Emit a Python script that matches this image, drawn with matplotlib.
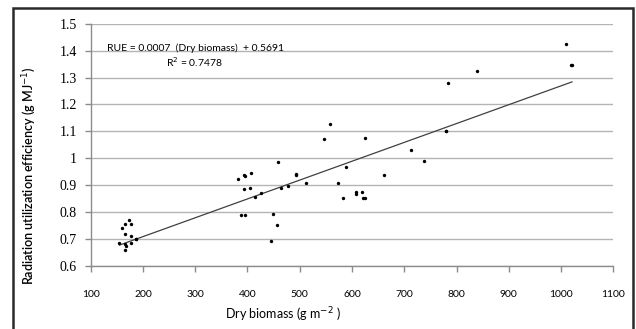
import numpy as np
import matplotlib.pyplot as plt
from matplotlib.patches import Rectangle

# dry biomass (g m-2) and RUE (g MJ-1) for each sample
biomass = [174, 165, 177, 159, 166, 177, 186, 187, 155, 165, 177, 167, 166,
           381, 394, 395, 407, 394, 405, 415, 426, 388, 395, 448, 456, 445,
           458, 464, 478, 492, 493, 512,
           546, 558, 625, 588, 574, 582, 607, 607, 619, 621, 624, 661,
           712, 738, 779, 780, 784, 840, 1010, 1020, 1021]
rue = [0.772, 0.756, 0.756, 0.740, 0.720, 0.713, 0.700, 0.699, 0.684, 0.680, 0.686, 0.673, 0.660,
       0.923, 0.937, 0.934, 0.946, 0.885, 0.891, 0.855, 0.870, 0.788, 0.788, 0.792, 0.752, 0.694,
       0.988, 0.891, 0.897, 0.940, 0.937, 0.910,
       1.071, 1.128, 1.075, 0.968, 0.907, 0.852, 0.874, 0.867, 0.874, 0.853, 0.852, 0.939,
       1.030, 0.990, 1.103, 1.100, 1.281, 1.324, 1.426, 1.348, 1.345]

slope = 0.0007
intercept = 0.5691
r2 = 0.7478

x_ticks = list(range(100, 1101, 100))
y_ticks = [0.6, 0.7, 0.8, 0.9, 1.0, 1.1, 1.2, 1.3, 1.4, 1.5]
y_labels = ["0.6", "0.7", "0.8", "0.9", "1", "1.1", "1.2", "1.3", "1.4", "1.5"]

narrow = ["Lato", "DejaVu Sans"]

fig = plt.figure(figsize=(6.36, 3.29), dpi=100)
ax = fig.add_axes([0.1426, 0.1915, 0.8217, 0.7365])

ax.scatter(biomass, rue, s=6, color="black", zorder=3, linewidths=0)

xl = np.array([min(biomass), max(biomass)])
ax.plot(xl, slope * xl + intercept, color="#404040", lw=0.9, zorder=2)

ax.set_xlim(100, 1100)
ax.set_ylim(0.6, 1.5)
ax.set_xticks(x_ticks)
ax.set_yticks(y_ticks)
ax.set_yticklabels(y_labels)
ax.grid(axis="y", color="#b4b4b4", lw=1.0)
ax.set_axisbelow(True)

for s in ["top", "right"]:
    ax.spines[s].set_visible(False)
for s in ["left", "bottom"]:
    ax.spines[s].set_color("#8c8c8c")
    ax.spines[s].set_linewidth(1.0)
ax.tick_params(axis="both", direction="out", length=4, color="#8c8c8c", width=1.0)
ax.tick_params(axis="x", pad=13)
ax.tick_params(axis="y", pad=6)

for lab in ax.get_xticklabels():
    lab.set_family(narrow)
    lab.set_fontsize(7.5)
for lab in ax.get_yticklabels():
    lab.set_family(["Liberation Serif"])
    lab.set_fontsize(10)

ax.set_xlabel("Dry biomass (g m$^{-2}$ )", family=narrow, fontsize=9)
ax.xaxis.set_label_coords(0.368, -0.163)
ax.set_ylabel("Radiation utilization efficiency (g MJ$^{-1}$)", family=narrow,
              fontsize=9, fontweight="semibold")
ax.yaxis.set_label_coords(-0.101, 0.371)

ax.text(0.032, 0.90, "RUE = %.4f  (Dry biomass)  + %.4f" % (slope, intercept),
        transform=ax.transAxes, family=narrow, fontsize=7.5, va="center")
ax.text(0.145, 0.842, "R$^2$ = %.4f" % r2,
        transform=ax.transAxes, family=narrow, fontsize=7.5, va="center")

# dark frame around the whole chart
fig.patches.append(Rectangle((13 / 636, -0.02), 620 / 636, 1 - 8 / 329 + 0.02,
                             transform=fig.transFigure, fill=False,
                             edgecolor="#2a2a2a", lw=1.8))

fig.savefig("out.png", dpi=100)
